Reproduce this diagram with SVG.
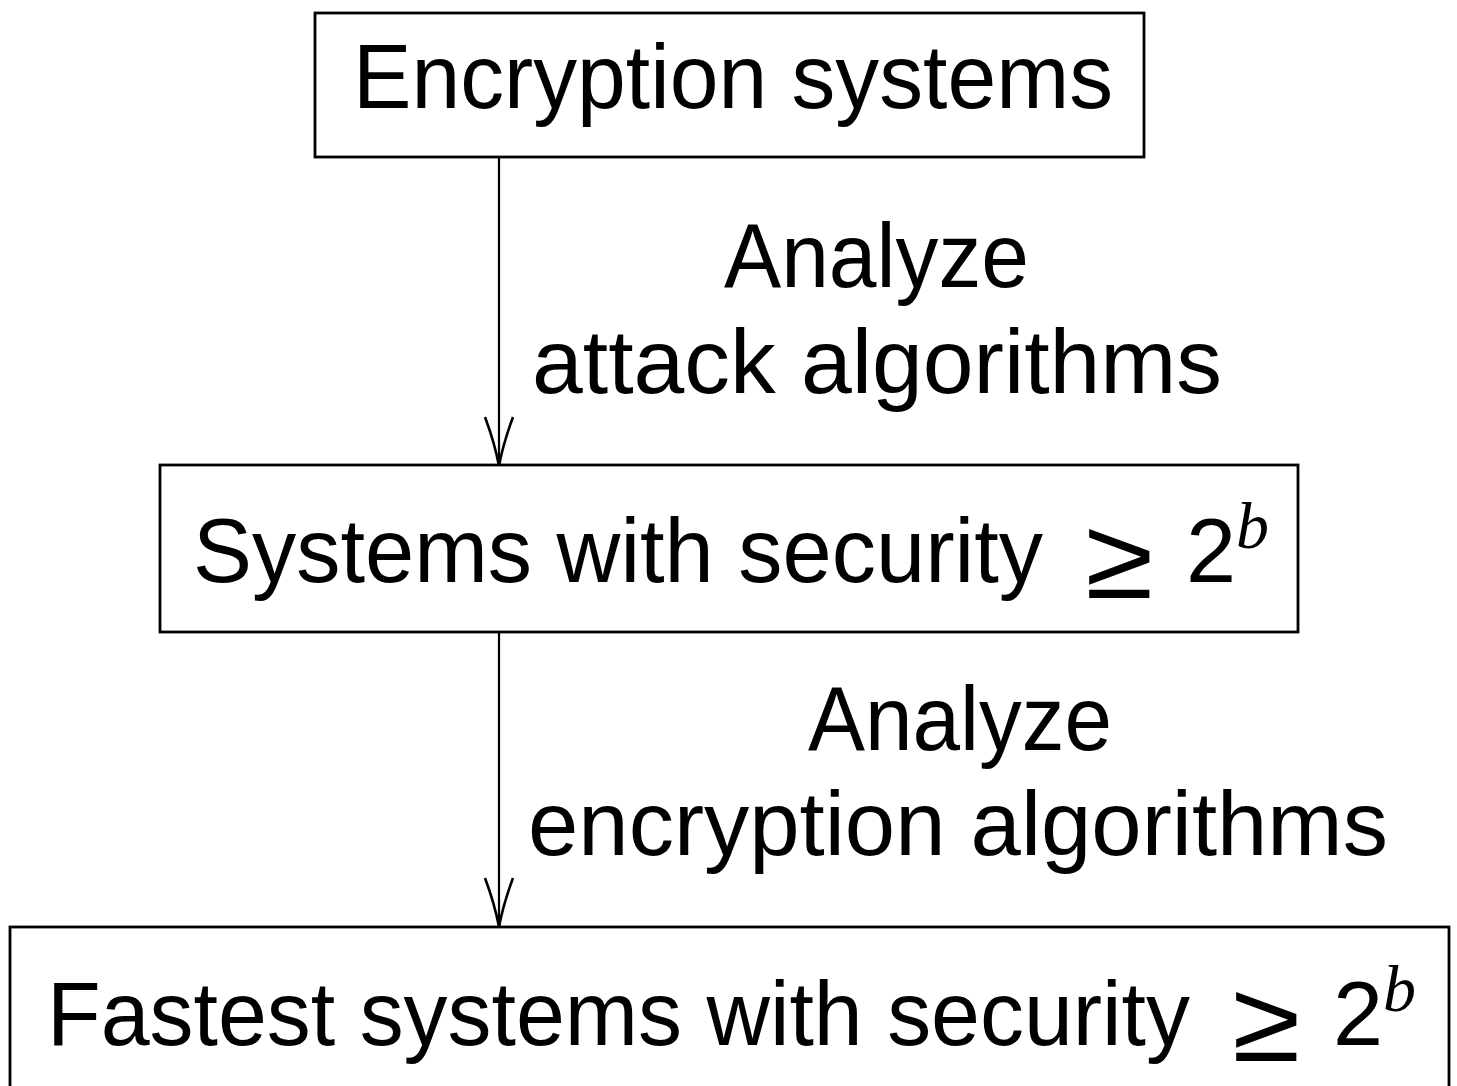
<svg xmlns="http://www.w3.org/2000/svg" width="1457" height="1086" viewBox="0 0 1457 1086">
  <style>
    .box { fill: #ffffff; stroke: #000000; stroke-width: 2.8; }
    .t { font-family: "Liberation Sans", Arial, sans-serif; font-size: 90px; fill: #000000; }
    .geq { font-family: "Liberation Sans", Arial, sans-serif; font-size: 115px; fill: #000000; }
    .sup { font-family: "Liberation Serif", "Times New Roman", serif; font-style: italic; font-size: 66px; fill: #000000; }
    .edge { stroke: #000000; stroke-width: 2.2; fill: none; }
  </style>
  <defs>
    <marker id="arr" markerUnits="userSpaceOnUse" orient="auto" refX="0" refY="0" markerWidth="60" markerHeight="40" viewBox="-55 -20 60 40" overflow="visible">
      <path d="M-49,-14 Q-22,-4 0,0 M-49,14 Q-22,4 0,0" fill="none" stroke="#000000" stroke-width="2.6"/>
    </marker>
  </defs>
  <rect width="1457" height="1086" fill="#ffffff"/>

  <g id="connectors">
    <line class="edge" x1="499" y1="157" x2="499" y2="466" marker-end="url(#arr)"/>
    <line class="edge" x1="499" y1="632" x2="499" y2="927" marker-end="url(#arr)"/>
    <g id="label1">
      <text class="t" x="724" y="287" textLength="305" lengthAdjust="spacingAndGlyphs">Analyze</text>
      <text class="t" x="532" y="393" textLength="690" lengthAdjust="spacingAndGlyphs">attack algorithms</text>
    </g>
    <g id="label2">
      <text class="t" x="808" y="750" textLength="304" lengthAdjust="spacingAndGlyphs">Analyze</text>
      <text class="t" x="528" y="855" textLength="860" lengthAdjust="spacingAndGlyphs">encryption algorithms</text>
    </g>
  </g>

  <g id="node-encryption-systems">
    <rect class="box" x="315" y="13" width="829" height="144"/>
    <text class="t" x="353" y="108" textLength="760" lengthAdjust="spacingAndGlyphs">Encryption systems</text>
  </g>

  <g id="node-secure-systems">
    <rect class="box" x="160" y="465" width="1138" height="167"/>
    <text class="t" x="193" y="582" textLength="850" lengthAdjust="spacingAndGlyphs">Systems with security</text>
    <text class="geq" x="1085" y="598" textLength="68" lengthAdjust="spacingAndGlyphs">≥</text>
    <text class="t" x="1186" y="582">2</text>
    <text class="sup" x="1236" y="548">b</text>
  </g>

  <g id="node-fastest-systems">
    <rect class="box" x="10" y="927" width="1439" height="175"/>
    <text class="t" x="47" y="1045" textLength="1143" lengthAdjust="spacingAndGlyphs">Fastest systems with security</text>
    <text class="geq" x="1232" y="1061" textLength="68" lengthAdjust="spacingAndGlyphs">≥</text>
    <text class="t" x="1333" y="1045">2</text>
    <text class="sup" x="1383" y="1011">b</text>
  </g>
</svg>
